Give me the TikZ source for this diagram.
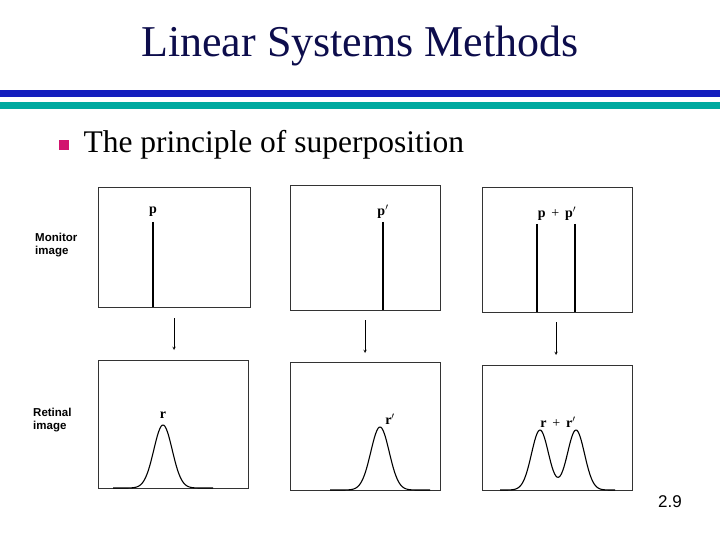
\documentclass[tikz,border=0pt]{standalone}
\usepackage{fontspec}
\setmainfont{Liberation Serif}
\newfontfamily\sansf{Liberation Sans}
\begin{document}
\begin{tikzpicture}[x=1pt,y=-1pt,
  panel/.style={draw=black!80,line width=0.8pt},
  spike/.style={line width=1.2pt},
  arr/.style={-stealth,line width=0.5pt},
  curve/.style={line width=1.1pt},
  lab/.style={font=\sansf\bfseries\fontsize{11.5}{12.5}\selectfont,align=left,anchor=west,inner sep=0pt},
  plab/.style={font=\bfseries\fontsize{14}{16}\selectfont,inner sep=1pt}]
\useasboundingbox (0,0) rectangle (720,540);
\node (title) at (360,46) {\fontsize{44}{48}\selectfont\color[rgb]{0.05,0.05,0.3}Linear Systems Methods};
\fill[color={rgb,255:red,20;green,30;blue,190}] (0,90) rectangle (720,97);
\fill[color={rgb,255:red,0;green,170;blue,160}] (0,102) rectangle (720,109);
\fill[color={rgb,255:red,210;green,20;blue,110}] (59,140) rectangle (69,150);
\node[anchor=west] (sub) at (80,145) {\fontsize{31.5}{34}\selectfont The principle of superposition};
% panels
\draw[panel] (98,187) rectangle (250,307);
\draw[panel] (290,185) rectangle (440,310);
\draw[panel] (482,187) rectangle (632,312);
\draw[panel] (98,360) rectangle (248,488);
\draw[panel] (290,362) rectangle (440,490);
\draw[panel] (482,365) rectangle (632,490);
\node[lab] (mon) at (35,245) {Monitor\\image};
\node[lab] (ret) at (33,420) {Retinal\\image};
% spikes
\draw[spike] (153,222) -- (153,307);
\node[plab] (p1) at (153,212) {p};
\draw[spike] (383,222) -- (383,310);
\node[plab] (p2) at (383,212) {p$'$};
\draw[spike] (537,224) -- (537,312);
\draw[spike] (575,224) -- (575,312);
\node[plab] (p3) at (557,214) {p \,{\mdseries +}\, p$'$};
% arrows
\coordinate (a1) at (174,318); \coordinate (b1) at (174,350);
\coordinate (a2) at (365,320); \coordinate (b2) at (365,353);
\coordinate (a3) at (556,322); \coordinate (b3) at (556,355);
\draw[arr] (a1) -- (b1); \draw[arr] (a2) -- (b2); \draw[arr] (a3) -- (b3);
% gaussians
\draw[curve,domain=113:213,samples=80,smooth] plot (\x,{488-63*exp(-((\x-163)/13)^2)});
\node[plab] (r1) at (163,415) {r};
\draw[curve,domain=330:430,samples=80,smooth] plot (\x,{490-63*exp(-((\x-380)/13)^2)});
\node[plab] (r2) at (390,419) {r$'$};
\draw[curve,domain=500:615,samples=100,smooth] plot (\x,{490-60*exp(-((\x-540)/12)^2)-60*exp(-((\x-576)/12)^2)});
\node[plab] (r3) at (558,422) {r \,{\mdseries +}\, r$'$};
\node[font=\sansf\fontsize{17}{20}\selectfont] (pg) at (670,502) {2.9};
\end{tikzpicture}
\end{document}
